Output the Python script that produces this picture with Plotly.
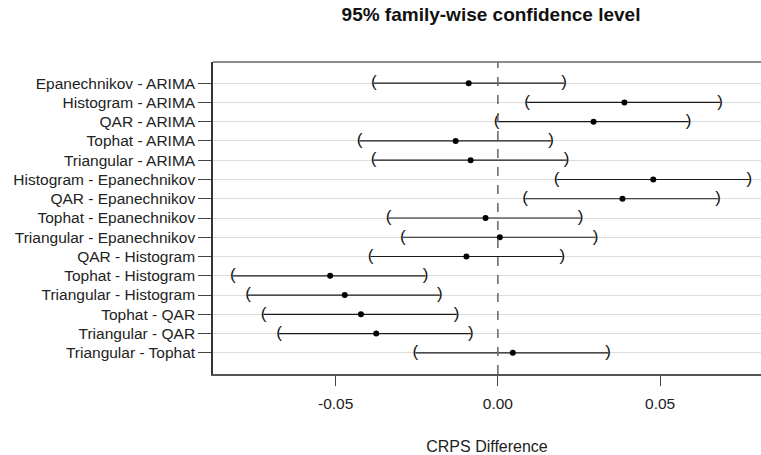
import plotly.graph_objects as go

comparisons = [
    "Epanechnikov - ARIMA", "Histogram - ARIMA", "QAR - ARIMA", "Tophat - ARIMA",
    "Triangular - ARIMA", "Histogram - Epanechnikov", "QAR - Epanechnikov",
    "Tophat - Epanechnikov", "Triangular - Epanechnikov", "QAR - Histogram",
    "Tophat - Histogram", "Triangular - Histogram", "Tophat - QAR",
    "Triangular - QAR", "Triangular - Tophat",
]
diff = [-0.0090, 0.0390, 0.0295, -0.0130, -0.0084, 0.0479, 0.0384, -0.0038,
        0.0006, -0.0097, -0.0517, -0.0472, -0.0422, -0.0375, 0.0046]
lwr = [-0.0382, 0.0090, -0.0004, -0.0426, -0.0383, 0.0181, 0.0084, -0.0337,
       -0.0293, -0.0392, -0.0817, -0.0770, -0.0722, -0.0674, -0.0254]
upr = [0.0204, 0.0685, 0.0588, 0.0164, 0.0212, 0.0775, 0.0679, 0.0255,
       0.0301, 0.0199, -0.0223, -0.0179, -0.0127, -0.0083, 0.0340]
x_tick_vals = [-0.05, 0.0, 0.05]
x_tick_text = ["-0.05", "0.00", "0.05"]

FONT = "Liberation Sans, Arial, sans-serif"
TXT = "#222222"

fig = go.Figure()

# interval segments
seg_x, seg_y = [], []
for c, lo, hi in zip(comparisons, lwr, upr):
    seg_x += [lo, hi, None]
    seg_y += [c, c, None]
fig.add_trace(go.Scatter(x=seg_x, y=seg_y, mode="lines",
                         line=dict(color="#1a1a1a", width=1.2),
                         hoverinfo="skip", showlegend=False))

# brackets
fig.add_trace(go.Scatter(x=lwr, y=comparisons, mode="text", text=["("] * len(lwr),
                         textposition="middle center",
                         textfont=dict(family=FONT, size=17, color="#111111"),
                         hoverinfo="skip", showlegend=False))
fig.add_trace(go.Scatter(x=upr, y=comparisons, mode="text", text=[")"] * len(upr),
                         textposition="middle center",
                         textfont=dict(family=FONT, size=17, color="#111111"),
                         hoverinfo="skip", showlegend=False))

# point estimates
fig.add_trace(go.Scatter(x=diff, y=comparisons, mode="markers",
                         marker=dict(color="black", size=6),
                         showlegend=False))

# zero reference line
fig.add_shape(type="line", xref="x", yref="paper", x0=0, x1=0, y0=0, y1=1,
              line=dict(color="#666666", width=1.5, dash="dash"))
# top border (plot box is cut off on the right)
fig.add_shape(type="line", xref="paper", yref="paper", x0=0, x1=1, y0=1, y1=1,
              line=dict(color="#666666", width=1.5))

fig.update_layout(
    width=761, height=455,
    margin=dict(l=213, r=0, t=62, b=81),
    paper_bgcolor="white", plot_bgcolor="white",
    font=dict(family=FONT, color=TXT),
    title=dict(text="<b>95% family-wise confidence level</b>",
               x=491 / 761, xanchor="center", xref="container",
               y=1 - 14.5 / 455, yanchor="middle", yref="container",
               font=dict(family=FONT, size=19, color="#111111")),
    xaxis=dict(range=[-0.0878, 0.0811], tickvals=x_tick_vals, ticktext=x_tick_text,
               ticks="outside", ticklen=10, tickcolor="#444444", tickwidth=1,
               showline=True, linecolor="#555555", linewidth=1.5, mirror=False,
               showgrid=False, zeroline=False, ticklabelstandoff=5,
               tickfont=dict(family=FONT, size=15.5, color=TXT),
               title=dict(text="CRPS Difference", standoff=30,
                          font=dict(family=FONT, size=16, color=TXT))),
    yaxis=dict(type="category", categoryorder="array", categoryarray=comparisons,
               range=[15.1, -1.1],
               ticks="outside", ticklen=13, tickcolor="#444444", tickwidth=1,
               showline=True, linecolor="#333333", linewidth=1.5, mirror=False,
               showgrid=True, gridcolor="#dcdcdc", gridwidth=1, zeroline=False,
               tickfont=dict(family=FONT, size=15.5, color=TXT)),
)

fig.write_html("out.html")
